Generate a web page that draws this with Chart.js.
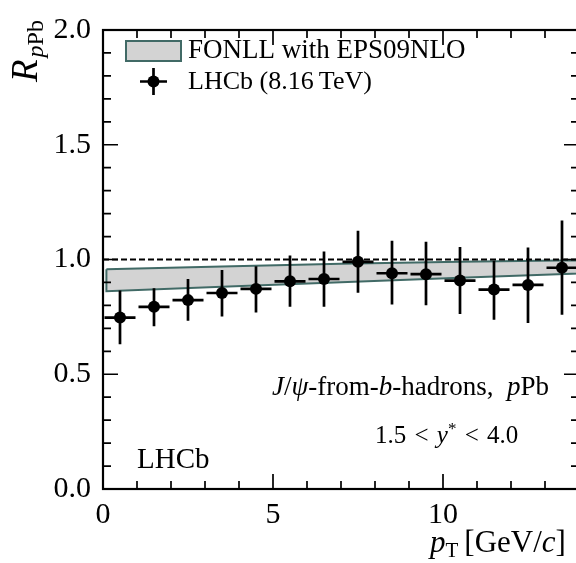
<!DOCTYPE html>
<html>
<head>
<meta charset="utf-8">
<script src="https://cdn.jsdelivr.net/npm/chart.js@4.4.1/dist/chart.umd.min.js"></script>
<style>
  html, body { margin: 0; padding: 0; background: #fff; overflow: hidden; }
  canvas { display: block; }
</style>
</head>
<body>
<canvas id="myChart" width="592" height="563"></canvas>
<script>
// pT bins [GeV/c]
var ptLow = [0, 1, 2, 3, 4, 5, 6, 7, 8, 9, 10, 11, 12, 13];
var ptHigh = [1, 2, 3, 4, 5, 6, 7, 8, 9, 10, 11, 12, 13, 14];
var ptCenter = [0.5, 1.5, 2.5, 3.5, 4.5, 5.5, 6.5, 7.5, 8.5, 9.5, 10.5, 11.5, 12.5, 13.5];

// LHCb R_pPb, J/psi-from-b-hadrons
var rValues = [0.747, 0.794, 0.823, 0.854, 0.872, 0.905, 0.915, 0.990, 0.940, 0.936, 0.908, 0.869, 0.889, 0.964];
var rErrUp = [0.118, 0.081, 0.092, 0.100, 0.099, 0.112, 0.120, 0.135, 0.142, 0.141, 0.147, 0.126, 0.163, 0.206];
var rErrDown = [0.116, 0.085, 0.090, 0.102, 0.103, 0.111, 0.121, 0.135, 0.136, 0.135, 0.146, 0.132, 0.166, 0.205];

// FONLL with EPS09NLO band
var bandPt = [0.1, 3.5, 7, 10.5, 14];
var bandHigh = [0.957, 0.969, 0.981, 0.990, 0.997];
var bandLow = [0.862, 0.881, 0.901, 0.920, 0.939];

// tick labels
var xTicks = [0, 5, 10];
var xTickLabels = ['0', '5', '10'];
var yTicks = [0, 0.5, 1.0, 1.5, 2.0];
var yTickLabels = ['0.0', '0.5', '1.0', '1.5', '2.0'];

var serif = '"Liberation Serif", "DejaVu Serif", serif';
var bandFill = '#d3d3d3';
var bandLine = '#416a66';

// contour of the band: upper edge left->right, lower edge right->left
var bandShape = [];
for (var i = 0; i < bandPt.length; i++) bandShape.push({ x: bandPt[i], y: bandHigh[i] });
for (var j = bandPt.length - 1; j >= 0; j--) bandShape.push({ x: bandPt[j], y: bandLow[j] });
bandShape.push({ x: bandPt[0], y: bandHigh[0] });

var points = ptCenter.map(function (x, k) { return { x: x, y: rValues[k] }; });

// write text in pieces (italic / subscripts)
function drawRich(ctx, x, y, parts) {
    parts.forEach(function (p) {
        ctx.font = p.font;
        ctx.fillText(p.text, x, y + (p.dy || 0));
        x += ctx.measureText(p.text).width + (p.gap || 0);
    });
}

// error bars
var errorBarPlugin = {
    id: 'errorBars',
    afterDatasetsDraw: function (chart) {
        var ctx = chart.ctx, xs = chart.scales.x, ys = chart.scales.y;
        ctx.save();
        ctx.strokeStyle = '#000';
        ctx.lineWidth = 2.7;
        for (var k = 0; k < rValues.length; k++) {
            var px = xs.getPixelForValue(ptCenter[k]);
            var py = ys.getPixelForValue(rValues[k]);
            ctx.beginPath();
            ctx.moveTo(px, ys.getPixelForValue(rValues[k] + rErrUp[k]));
            ctx.lineTo(px, ys.getPixelForValue(rValues[k] - rErrDown[k]));
            ctx.moveTo(xs.getPixelForValue(ptLow[k]) + 1.5, py);
            ctx.lineTo(xs.getPixelForValue(ptHigh[k]) - 1.5, py);
            ctx.stroke();
        }
        ctx.restore();
    }
};

// frame, inward ticks on all four sides, legend and labels
var framePlugin = {
    id: 'frame',
    afterDraw: function (chart) {
        var ctx = chart.ctx, a = chart.chartArea, xs = chart.scales.x, ys = chart.scales.y;
        ctx.save();
        ctx.strokeStyle = '#000';
        ctx.lineWidth = 2.2;
        ctx.strokeRect(a.left, a.top, a.right - a.left, a.bottom - a.top);

        ctx.lineWidth = 1.7;
        ctx.beginPath();
        for (var v = 0; v <= 14; v++) {
            var len = (v % 5 === 0) ? 15 : 8;
            var px = xs.getPixelForValue(v);
            ctx.moveTo(px, a.bottom); ctx.lineTo(px, a.bottom - len);
            ctx.moveTo(px, a.top); ctx.lineTo(px, a.top + len);
        }
        for (var t = 0; t <= 20; t++) {
            var ylen = (t % 5 === 0) ? 15 : 8;
            var py = ys.getPixelForValue(t / 10);
            ctx.moveTo(a.left, py); ctx.lineTo(a.left + ylen, py);
            ctx.moveTo(a.right, py); ctx.lineTo(a.right - ylen, py);
        }
        ctx.stroke();

        // legend
        ctx.fillStyle = bandFill;
        ctx.fillRect(126, 41, 55, 20);
        ctx.strokeStyle = bandLine;
        ctx.lineWidth = 2;
        ctx.strokeRect(126, 41, 55, 20);
        ctx.strokeStyle = '#000';
        ctx.lineWidth = 2.7;
        ctx.beginPath();
        ctx.moveTo(153.5, 68); ctx.lineTo(153.5, 95);
        ctx.moveTo(140, 81.5); ctx.lineTo(167, 81.5);
        ctx.stroke();
        ctx.fillStyle = '#000';
        ctx.beginPath();
        ctx.arc(153.5, 81.5, 6, 0, Math.PI * 2);
        ctx.fill();

        ctx.fillStyle = '#000';
        ctx.textBaseline = 'alphabetic';
        ctx.textAlign = 'left';
        var rm = function (s) { return s + 'px ' + serif; };
        var it = function (s) { return 'italic ' + s + 'px ' + serif; };
        drawRich(ctx, 188, 58, [{ text: 'FONLL with EPS09NLO', font: rm(27) }]);
        drawRich(ctx, 188, 89, [{ text: 'LHCb (8.16\u2009TeV)', font: rm(26) }]);

        drawRich(ctx, 137, 468, [{ text: 'LHCb', font: rm(29) }]);

        drawRich(ctx, 272, 395, [
            { text: 'J', font: it(27) },
            { text: '/', font: rm(27) },
            { text: '\u03C8', font: it(27) },
            { text: '-from-', font: rm(27) },
            { text: 'b', font: it(27) },
            { text: '-hadrons,  ', font: rm(27) },
            { text: 'p', font: it(27) },
            { text: 'Pb', font: rm(27) }
        ]);

        drawRich(ctx, 375, 443, [
            { text: '1.5 ', font: rm(25), gap: 2 },
            { text: '<', font: rm(25), gap: 2 },
            { text: ' ', font: rm(25) },
            { text: 'y', font: it(25) },
            { text: '*', font: rm(17), dy: -9 },
            { text: ' ', font: rm(25), gap: 2 },
            { text: '<', font: rm(25), gap: 2 },
            { text: ' 4.0', font: rm(25) }
        ]);

        // x title
        drawRich(ctx, 430, 552, [
            { text: 'p', font: it(31) },
            { text: 'T', font: rm(21), dy: 5, gap: 6 },
            { text: '[GeV/', font: rm(31) },
            { text: 'c', font: it(31) },
            { text: ']', font: rm(31) }
        ]);

        // y title
        ctx.translate(37, 82);
        ctx.rotate(-Math.PI / 2);
        drawRich(ctx, 0, 0, [
            { text: 'R', font: it(37), gap: 2 },
            { text: 'p', font: it(24), dy: 6 },
            { text: 'Pb', font: rm(24), dy: 6 }
        ]);
        ctx.restore();
    }
};

var ctx = document.getElementById('myChart').getContext('2d');
var myChart = new Chart(ctx, {
    type: 'scatter',
    data: {
        datasets: [{
            label: 'LHCb (8.16 TeV)',
            data: points,
            backgroundColor: '#000',
            borderWidth: 0,
            pointRadius: 6,
            order: 0
        }, {
            type: 'line',
            label: 'unity',
            data: [{ x: 0, y: 1 }, { x: 14, y: 1 }],
            borderColor: '#000',
            borderWidth: 2,
            borderDash: [6, 3],
            pointRadius: 0,
            fill: false,
            order: 1
        }, {
            type: 'line',
            label: 'FONLL with EPS09NLO',
            data: bandShape,
            borderColor: bandLine,
            borderWidth: 2,
            backgroundColor: bandFill,
            pointRadius: 0,
            tension: 0,
            fill: 'shape',
            order: 2
        }]
    },
    options: {
        responsive: false,
        animation: false,
        events: [],
        layout: { padding: { top: 18, right: 13, left: 0, bottom: 0 } },
        plugins: {
            legend: { display: false },
            tooltip: { enabled: false }
        },
        scales: {
            x: {
                type: 'linear',
                min: 0,
                max: 14,
                grid: { display: false, drawTicks: false },
                border: { display: false },
                afterBuildTicks: function (scale) {
                    scale.ticks = xTicks.map(function (v) { return { value: v }; });
                },
                afterFit: function (scale) { scale.height = 74; },
                ticks: {
                    autoSkip: false,
                    maxRotation: 0,
                    padding: 8,
                    color: '#000',
                    font: { family: serif, size: 30 },
                    callback: function (value) {
                        var k = xTicks.indexOf(value);
                        return k >= 0 ? xTickLabels[k] : '';
                    }
                }
            },
            y: {
                min: 0,
                max: 2,
                grid: { display: false, drawTicks: false },
                border: { display: false },
                afterBuildTicks: function (scale) {
                    scale.ticks = yTicks.map(function (v) { return { value: v }; });
                },
                afterFit: function (scale) { scale.width = 103; },
                ticks: {
                    autoSkip: false,
                    padding: 12,
                    color: '#000',
                    font: { family: serif, size: 30 },
                    callback: function (value) {
                        var k = yTicks.indexOf(value);
                        return k >= 0 ? yTickLabels[k] : '';
                    }
                }
            }
        }
    },
    plugins: [errorBarPlugin, framePlugin]
});
</script>
</body>
</html>
